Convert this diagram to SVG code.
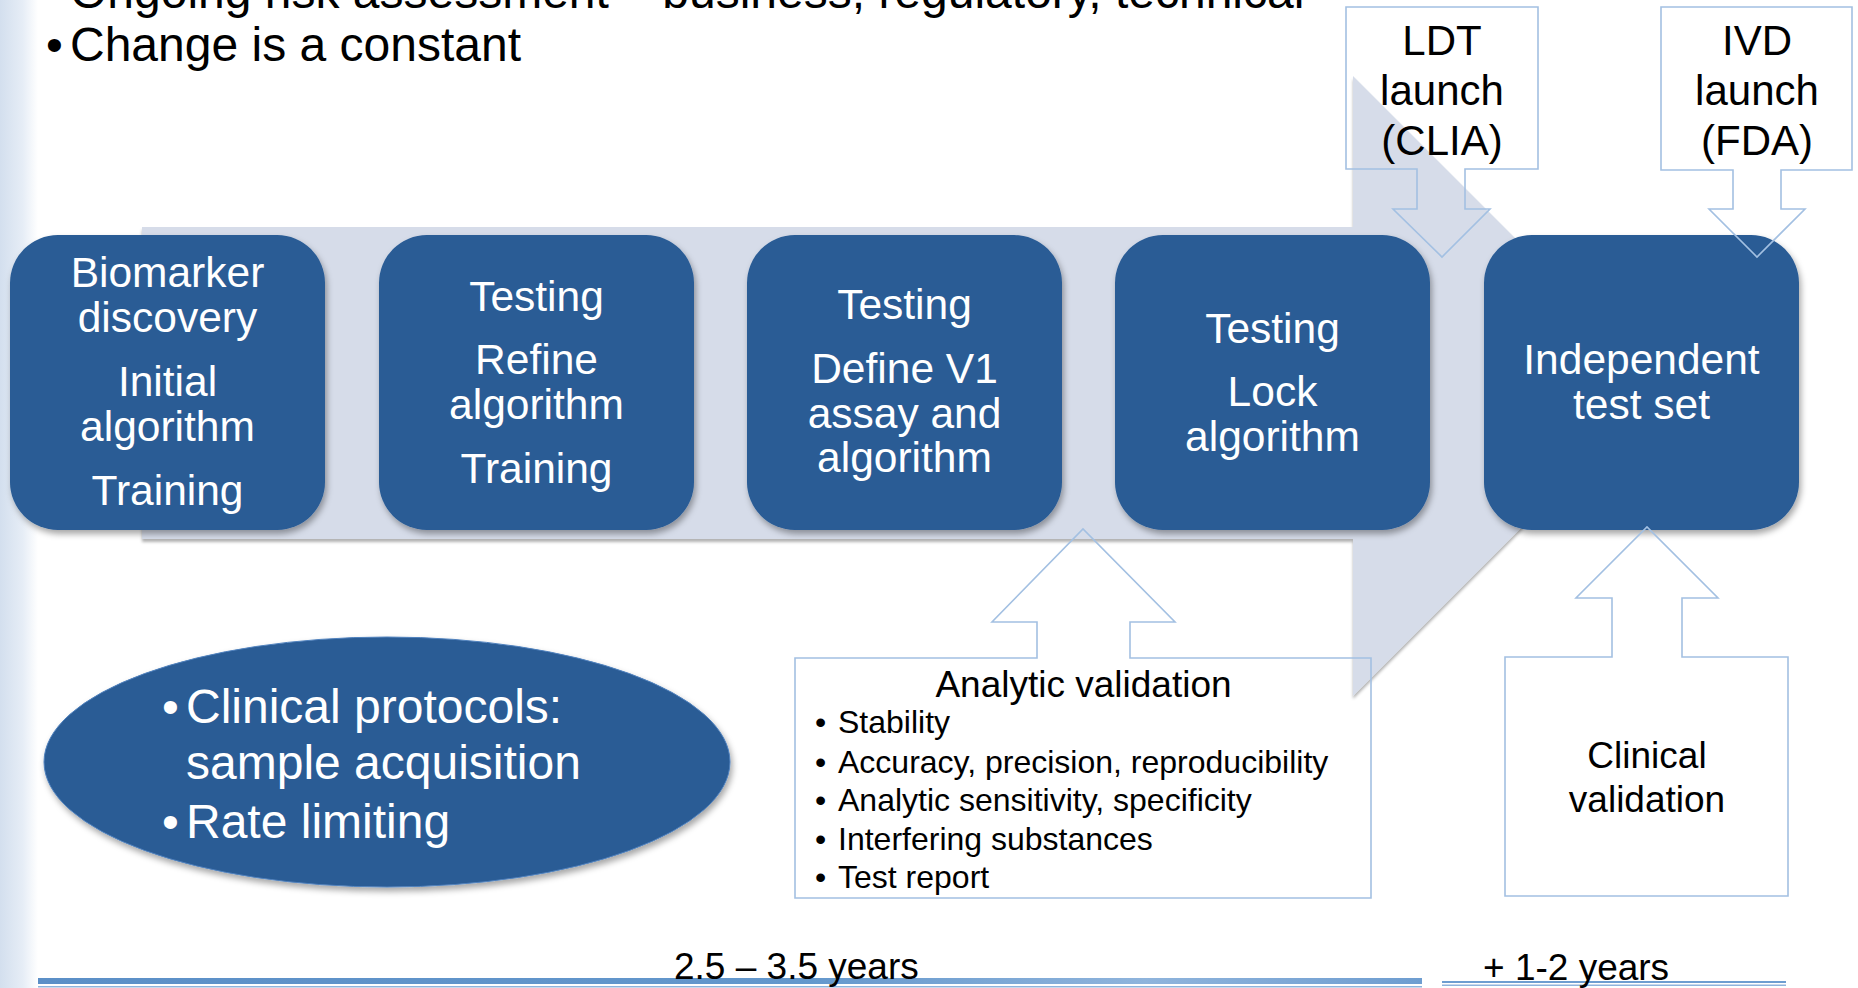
<svg xmlns="http://www.w3.org/2000/svg" width="1858" height="988" viewBox="0 0 1858 988">
  <defs>
    <style>
      .sans { font-family: "Liberation Sans", Arial, sans-serif; }
      .head { font-size: 48px; fill: #000; }
      .box { fill: #295b95; filter: url(#boxShadow); }
      .boxText { font-size: 42.5px; fill: #fff; text-anchor: middle; }
      .callout { fill: none; stroke: #a3c0e2; stroke-width: 1.6; }
      .calloutText { font-size: 42px; fill: #000; text-anchor: middle; }
      .listText { font-size: 32px; fill: #000; }
      .years { font-size: 37px; fill: #000; }
    </style>
    <linearGradient id="sideBand" x1="0" y1="0" x2="1" y2="0">
      <stop offset="0" stop-color="#d3dfee"/>
      <stop offset="0.6" stop-color="#e6edf6"/>
      <stop offset="1" stop-color="#ffffff"/>
    </linearGradient>
    <linearGradient id="ruleMain" x1="0" y1="0" x2="1" y2="0">
      <stop offset="0" stop-color="#5b8fc7"/>
      <stop offset="0.55" stop-color="#6397cc"/>
      <stop offset="0.8" stop-color="#8fb4dc"/>
      <stop offset="1" stop-color="#6e9dd0"/>
    </linearGradient>
    <filter id="boxShadow" x="-10%" y="-10%" width="125%" height="125%">
      <feDropShadow dx="2" dy="4" stdDeviation="3" flood-color="#000" flood-opacity="0.35"/>
    </filter>
    <filter id="arrowShadow" x="-5%" y="-10%" width="110%" height="125%">
      <feDropShadow dx="0" dy="3" stdDeviation="1.5" flood-color="#000" flood-opacity="0.3"/>
    </filter>
  </defs>

  <rect x="0" y="0" width="1858" height="988" fill="#ffffff"/>
  <rect x="0" y="0" width="38" height="988" fill="url(#sideBand)"/>

  <!-- slide bullets (first line runs off the top edge) -->
  <g id="header" class="sans head">
    <text x="46" y="8">•</text>
    <text x="70" y="8">Ongoing risk assessment – business, regulatory, technical</text>
    <text x="46" y="61">•</text>
    <text x="70" y="61">Change is a constant</text>
  </g>

  <!-- timeline arrow behind the stages -->
  <g id="connectors">
    <path id="timeline-arrow" d="M142,227 H1353 V76 L1663,386 L1353,696 V539 H142 Z" fill="#d6dce9" filter="url(#arrowShadow)"/>
  </g>

  <!-- stages -->
  <g id="stage-biomarker">
    <rect class="box" x="10" y="235" width="315" height="295" rx="48" ry="48"/>
    <text class="sans boxText" x="167.5" y="287">Biomarker</text>
    <text class="sans boxText" x="167.5" y="332">discovery</text>
    <text class="sans boxText" x="167.5" y="396">Initial</text>
    <text class="sans boxText" x="167.5" y="441">algorithm</text>
    <text class="sans boxText" x="167.5" y="505">Training</text>
  </g>
  <g id="stage-refine">
    <rect class="box" x="379" y="235" width="315" height="295" rx="48" ry="48"/>
    <text class="sans boxText" x="536.5" y="311">Testing</text>
    <text class="sans boxText" x="536.5" y="374">Refine</text>
    <text class="sans boxText" x="536.5" y="419">algorithm</text>
    <text class="sans boxText" x="536.5" y="483">Training</text>
  </g>
  <g id="stage-define">
    <rect class="box" x="747" y="235" width="315" height="295" rx="48" ry="48"/>
    <text class="sans boxText" x="904.5" y="319">Testing</text>
    <text class="sans boxText" x="904.5" y="383">Define V1</text>
    <text class="sans boxText" x="904.5" y="428">assay and</text>
    <text class="sans boxText" x="904.5" y="472">algorithm</text>
  </g>
  <g id="stage-lock">
    <rect class="box" x="1115" y="235" width="315" height="295" rx="48" ry="48"/>
    <text class="sans boxText" x="1272.5" y="343">Testing</text>
    <text class="sans boxText" x="1272.5" y="406">Lock</text>
    <text class="sans boxText" x="1272.5" y="451">algorithm</text>
  </g>
  <g id="stage-independent">
    <rect class="box" x="1484" y="235" width="315" height="295" rx="48" ry="48"/>
    <text class="sans boxText" x="1641.5" y="374">Independent</text>
    <text class="sans boxText" x="1641.5" y="419">test set</text>
  </g>

  <!-- clinical protocols note -->
  <g id="clinical-protocols">
    <ellipse cx="387" cy="762" rx="343" ry="125" fill="#295b95" stroke="#4f81bd" stroke-width="1" filter="url(#boxShadow)"/>
    <g class="sans" font-size="48" fill="#fff">
      <text x="162" y="723">•</text>
      <text x="186" y="723">Clinical protocols:</text>
      <text x="186" y="779">sample acquisition</text>
      <text x="162" y="838">•</text>
      <text x="186" y="838">Rate limiting</text>
    </g>
  </g>

  <!-- launch callouts -->
  <g id="ldt-launch">
    <path class="callout" d="M1346,7 H1538 V169 H1465 V209 H1490 L1442,257 L1393,209 H1417 V169 H1346 Z"/>
    <text class="sans calloutText" x="1442" y="55">LDT</text>
    <text class="sans calloutText" x="1442" y="105">launch</text>
    <text class="sans calloutText" x="1442" y="155">(CLIA)</text>
  </g>
  <g id="ivd-launch">
    <path class="callout" d="M1661,7 H1852 V170 H1781 V209 H1805 L1757,257 L1709,209 H1733 V170 H1661 Z"/>
    <text class="sans calloutText" x="1757" y="55">IVD</text>
    <text class="sans calloutText" x="1757" y="105">launch</text>
    <text class="sans calloutText" x="1757" y="155">(FDA)</text>
  </g>

  <!-- validation callouts -->
  <g id="analytic-validation">
    <path class="callout" d="M795,658 H1037 V622 H992 L1083,529 L1175,622 H1130 V658 H1371 V898 H795 Z"/>
    <text class="sans" x="1083.5" y="697" font-size="37" text-anchor="middle">Analytic validation</text>
    <g class="sans listText">
      <text x="815" y="733">•</text><text x="838" y="733">Stability</text>
      <text x="815" y="773">•</text><text x="838" y="773">Accuracy, precision, reproducibility</text>
      <text x="815" y="811">•</text><text x="838" y="811">Analytic sensitivity, specificity</text>
      <text x="815" y="850">•</text><text x="838" y="850">Interfering substances</text>
      <text x="815" y="888">•</text><text x="838" y="888">Test report</text>
    </g>
  </g>
  <g id="clinical-validation">
    <path class="callout" d="M1505,657 H1612 V598 H1576 L1647,527 L1718,598 H1682 V657 H1788 V896 H1505 Z"/>
    <text class="sans" x="1647" y="768" font-size="37" text-anchor="middle">Clinical</text>
    <text class="sans" x="1647" y="812" font-size="37" text-anchor="middle">validation</text>
  </g>

  <!-- duration rules -->
  <g id="durations">
    <rect x="38" y="978" width="1384" height="6" fill="url(#ruleMain)"/>
    <rect x="38" y="986" width="1384" height="1.5" fill="#8fb3dc"/>
    <rect x="1442" y="981" width="344" height="2" fill="#6e9dd0"/>
    <rect x="1442" y="984.5" width="344" height="1.5" fill="#8fb3dc"/>
    <text class="sans years" x="674" y="979">2.5 – 3.5 years</text>
    <text class="sans years" x="1483" y="980">+ 1-2 years</text>
  </g>
</svg>
